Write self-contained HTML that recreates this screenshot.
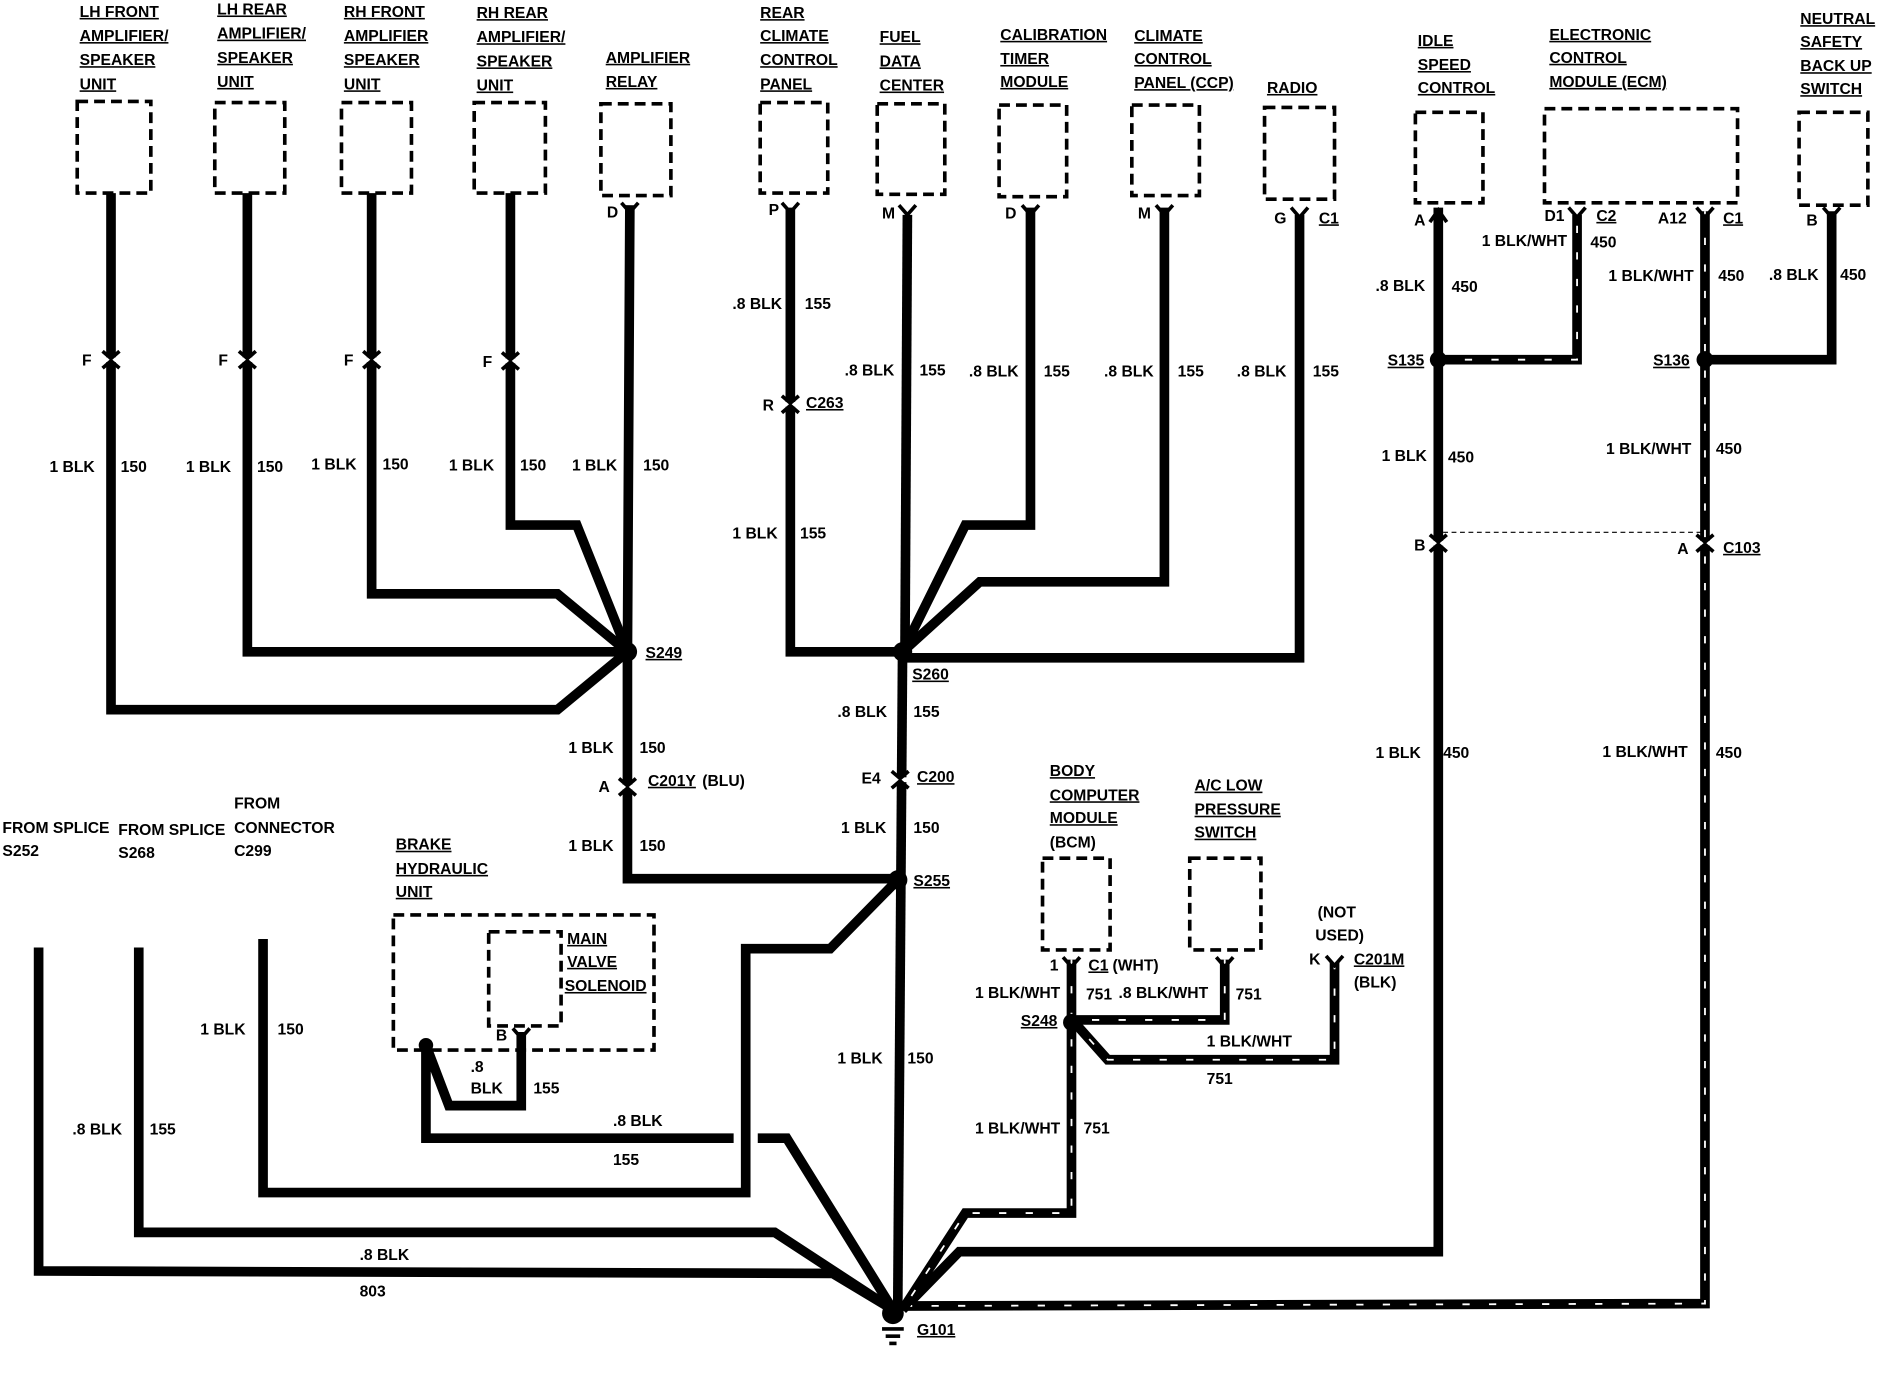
<!DOCTYPE html>
<html><head><meta charset="utf-8"><style>
html,body{margin:0;padding:0;background:#fff;}
svg{display:block;}
text{font-family:"Liberation Sans",sans-serif;font-weight:bold;font-size:13px;fill:#000;}
.u{text-decoration:underline;}
.w{fill:none;stroke:#000;stroke-width:8;stroke-linejoin:miter;}
.s{fill:none;stroke:#fff;stroke-width:1.5;stroke-dasharray:6 16;}
.b{fill:none;stroke:#000;stroke-width:3;stroke-dasharray:9 5;}
.c{fill:none;stroke:#000;stroke-width:3;}
</style></head><body>
<svg width="1892" height="1376" viewBox="0 0 1568 1140" preserveAspectRatio="none" xmlns="http://www.w3.org/2000/svg">
<!-- boxes -->
<rect class="b" x="64" y="84" width="61" height="76"/>
<rect class="b" x="178" y="85" width="58" height="75"/>
<rect class="b" x="283" y="85" width="58" height="75"/>
<rect class="b" x="393" y="85" width="59" height="75"/>
<rect class="b" x="498" y="86" width="58" height="76"/>
<rect class="b" x="630" y="85" width="56" height="75"/>
<rect class="b" x="727" y="86" width="56" height="75"/>
<rect class="b" x="828" y="87" width="56" height="76"/>
<rect class="b" x="938" y="87" width="56" height="75"/>
<rect class="b" x="1048" y="89" width="58" height="76"/>
<rect class="b" x="1173" y="93" width="56" height="75"/>
<rect class="b" x="1280" y="90" width="160" height="78"/>
<rect class="b" x="1491" y="93" width="57" height="77"/>
<rect class="b" x="864" y="711" width="56" height="76"/>
<rect class="b" x="986" y="711" width="59" height="76"/>
<rect class="b" x="326" y="758" width="216" height="112"/>
<rect class="b" x="405" y="772" width="60" height="78"/>

<!-- left group wires -->
<polyline class="w" points="92,160 92,588 462,588 520,540"/>
<polyline class="w" points="205,160 205,540 520,540"/>
<polyline class="w" points="308,160 308,492 462,492 520,540"/>
<polyline class="w" points="423,160 423,435 478,435 520,540"/>
<polyline class="w" points="522,170 520,540 520,728 744,728"/>
<!-- middle group -->
<polyline class="w" points="655,172 655,540 748,540"/>
<polyline class="w" points="752,178 750,540"/>
<polyline class="w" points="854,172 854,435 800,435 748,540"/>
<polyline class="w" points="965,172 965,482 812,482 748,540"/>
<polyline class="w" points="1077,178 1077,545 748,545"/>
<polyline class="w" points="748,540 744,1085"/>
<!-- from S255 to C299 -->
<polyline class="w" points="744,729 688,786 618,786 618,988 218,988 218,778"/>
<!-- brake -->
<polyline class="w" points="432,855 432,916 372,916 353,866 353,943 608,943"/>
<polyline class="w" points="628,943 652,943 740,1085"/>
<!-- left long wires -->
<polyline class="w" points="32,785 32,1053 690,1055 740,1085"/>
<polyline class="w" points="115,785 115,1021 642,1021 740,1085"/>
<!-- right side -->
<polyline class="w" points="1192,172 1192,1037 795,1037 748,1085"/>
<polyline class="w" points="1413,175 1413,1080 748,1082"/>
<polyline class="s" points="1413,175 1413,1080 748,1082"/>
<polyline class="w" points="1192,298 1307,298 1307,178"/>
<polyline class="s" points="1192,298 1307,298 1307,178"/>
<polyline class="w" points="1413,298 1518,298 1518,175"/>
<line x1="1196" y1="441" x2="1410" y2="441" stroke="#000" stroke-width="1" stroke-dasharray="4 3"/>
<!-- BCM area -->
<polyline class="w" points="888,795 888,1005 800,1005 748,1085"/>
<polyline class="s" points="888,795 888,1005 800,1005 748,1085"/>
<polyline class="w" points="1015,795 1015,845 892,845"/>
<polyline class="s" points="1015,795 1015,845 892,845"/>
<polyline class="w" points="1106,797 1106,878 918,878 893,850"/>
<polyline class="s" points="1106,797 1106,878 918,878 893,850"/>

<!-- splice dots -->
<g fill="#000">
<circle cx="520" cy="540" r="8"/><circle cx="748" cy="540" r="8"/>
<circle cx="744" cy="729" r="8"/><circle cx="1192" cy="298" r="7"/>
<circle cx="1413" cy="298" r="7"/><circle cx="888" cy="847" r="7"/>
<circle cx="353" cy="866" r="6"/><circle cx="740" cy="1088" r="9"/>
</g>
<g stroke="#000" stroke-width="3"><line x1="731" y1="1101" x2="749" y2="1101"/><line x1="734" y1="1107" x2="746" y2="1107"/><line x1="737" y1="1113" x2="743" y2="1113"/></g>

<!-- inline connectors -->
<g>
<rect x="80" y="296" width="24" height="4" fill="#fff"/><path class="c" d="M85 291 L92 297 L99 291 M85 305 L92 299 L99 305"/>
<rect x="193" y="296" width="24" height="4" fill="#fff"/><path class="c" d="M198 291 L205 297 L212 291 M198 305 L205 299 L212 305"/>
<rect x="296" y="296" width="24" height="4" fill="#fff"/><path class="c" d="M301 291 L308 297 L315 291 M301 305 L308 299 L315 305"/>
<rect x="411" y="297" width="24" height="4" fill="#fff"/><path class="c" d="M416 292 L423 298 L430 292 M416 306 L423 300 L430 306"/>
<rect x="643" y="333" width="24" height="4" fill="#fff"/><path class="c" d="M648 328 L655 334 L662 328 M648 342 L655 336 L662 342"/>
<rect x="508" y="650" width="24" height="4" fill="#fff"/><path class="c" d="M513 645 L520 651 L527 645 M513 659 L520 653 L527 659"/>
<rect x="734" y="644" width="24" height="4" fill="#fff"/><path class="c" d="M739 639 L746 645 L753 639 M739 653 L746 647 L753 653"/>
<rect x="1180" y="448" width="24" height="4" fill="#fff"/><path class="c" d="M1185 443 L1192 449 L1199 443 M1185 457 L1192 451 L1199 457"/>
<rect x="1401" y="448" width="24" height="4" fill="#fff"/><path class="c" d="M1406 443 L1413 449 L1420 443 M1406 457 L1413 451 L1420 457"/>
<!-- header connectors -->
<path class="c" d="M515 168 L522 176 L529 168"/><path class="c" d="M648 168 L655 176 L662 168"/>
<path class="c" d="M745 170 L752 178 L759 170"/><path class="c" d="M847 170 L854 178 L861 170"/>
<path class="c" d="M958 170 L965 178 L972 170"/><path class="c" d="M1070 172 L1077 180 L1084 172"/>
<path class="c" d="M1185 184 L1192 174 L1199 184"/><path class="c" d="M1300 172 L1307 180 L1314 172"/>
<path class="c" d="M1406 172 L1413 180 L1420 172"/><path class="c" d="M1511 172 L1518 180 L1525 172"/>
<path class="c" d="M881 793 L888 801 L895 793"/><path class="c" d="M1008 793 L1015 801 L1022 793"/>
<path class="c" d="M1099 792 L1106 800 L1113 792"/><path class="c" d="M425 852 L432 860 L439 852"/>
</g>

<!-- labels -->
<text x="66" y="14" class="u">LH FRONT</text><text x="66" y="34" class="u">AMPLIFIER/</text><text x="66" y="54" class="u">SPEAKER</text><text x="66" y="74" class="u">UNIT</text>
<text x="180" y="12" class="u">LH REAR</text><text x="180" y="32" class="u">AMPLIFIER/</text><text x="180" y="52" class="u">SPEAKER</text><text x="180" y="72" class="u">UNIT</text>
<text x="285" y="14" class="u">RH FRONT</text><text x="285" y="34" class="u">AMPLIFIER</text><text x="285" y="54" class="u">SPEAKER</text><text x="285" y="74" class="u">UNIT</text>
<text x="395" y="15" class="u">RH REAR</text><text x="395" y="35" class="u">AMPLIFIER/</text><text x="395" y="55" class="u">SPEAKER</text><text x="395" y="75" class="u">UNIT</text>
<text x="502" y="52" class="u">AMPLIFIER</text><text x="502" y="72" class="u">RELAY</text>
<text x="630" y="15" class="u">REAR</text><text x="630" y="34" class="u">CLIMATE</text><text x="630" y="54" class="u">CONTROL</text><text x="630" y="74" class="u">PANEL</text>
<text x="729" y="35" class="u">FUEL</text><text x="729" y="55" class="u">DATA</text><text x="729" y="75" class="u">CENTER</text>
<text x="829" y="33" class="u">CALIBRATION</text><text x="829" y="53" class="u">TIMER</text><text x="829" y="72" class="u">MODULE</text>
<text x="940" y="34" class="u">CLIMATE</text><text x="940" y="53" class="u">CONTROL</text><text x="940" y="73" class="u">PANEL (CCP)</text>
<text x="1050" y="77" class="u">RADIO</text>
<text x="1175" y="38" class="u">IDLE</text><text x="1175" y="58" class="u">SPEED</text><text x="1175" y="77" class="u">CONTROL</text>
<text x="1284" y="33" class="u">ELECTRONIC</text><text x="1284" y="52" class="u">CONTROL</text><text x="1284" y="72" class="u">MODULE (ECM)</text>
<text x="1492" y="20" class="u">NEUTRAL</text><text x="1492" y="39" class="u">SAFETY</text><text x="1492" y="59" class="u">BACK UP</text><text x="1492" y="78" class="u">SWITCH</text>

<text x="503" y="180">D</text><text x="637" y="178">P</text><text x="731" y="181">M</text><text x="833" y="181">D</text><text x="943" y="181">M</text>
<text x="1056" y="185">G</text><text x="1093" y="185" class="u">C1</text>
<text x="1172" y="187">A</text><text x="1280" y="183">D1</text><text x="1323" y="183" class="u">C2</text>
<text x="1374" y="185">A12</text><text x="1428" y="185" class="u">C1</text><text x="1497" y="187">B</text>
<text x="68" y="303">F</text><text x="181" y="303">F</text><text x="285" y="303">F</text><text x="400" y="304">F</text>
<text x="632" y="340">R</text><text x="668" y="338" class="u">C263</text>

<text x="41" y="391">1 BLK</text><text x="100" y="391">150</text>
<text x="154" y="391">1 BLK</text><text x="213" y="391">150</text>
<text x="258" y="389">1 BLK</text><text x="317" y="389">150</text>
<text x="372" y="390">1 BLK</text><text x="431" y="390">150</text>
<text x="474" y="390">1 BLK</text><text x="533" y="390">150</text>
<text x="607" y="256">.8 BLK</text><text x="667" y="256">155</text>
<text x="607" y="446">1 BLK</text><text x="663" y="446">155</text>
<text x="700" y="311">.8 BLK</text><text x="762" y="311">155</text>
<text x="803" y="312">.8 BLK</text><text x="865" y="312">155</text>
<text x="915" y="312">.8 BLK</text><text x="976" y="312">155</text>
<text x="1025" y="312">.8 BLK</text><text x="1088" y="312">155</text>
<text x="1140" y="241">.8 BLK</text><text x="1203" y="242">450</text>
<text x="1228" y="204">1 BLK/WHT</text><text x="1318" y="205">450</text>
<text x="1333" y="233">1 BLK/WHT</text><text x="1424" y="233">450</text>
<text x="1466" y="232">.8 BLK</text><text x="1525" y="232">450</text>
<text x="1150" y="303" class="u">S135</text><text x="1370" y="303" class="u">S136</text>
<text x="1145" y="382">1 BLK</text><text x="1200" y="383">450</text>
<text x="1331" y="376">1 BLK/WHT</text><text x="1422" y="376">450</text>
<text x="1172" y="456">B</text><text x="1390" y="459">A</text><text x="1428" y="458" class="u">C103</text>
<text x="1140" y="628">1 BLK</text><text x="1196" y="628">450</text>
<text x="1328" y="627">1 BLK/WHT</text><text x="1422" y="628">450</text>

<text x="535" y="545" class="u">S249</text><text x="756" y="563" class="u">S260</text>
<text x="694" y="594">.8 BLK</text><text x="757" y="594">155</text>
<text x="714" y="649">E4</text><text x="760" y="648" class="u">C200</text>
<text x="697" y="690">1 BLK</text><text x="757" y="690">150</text>
<text x="757" y="734" class="u">S255</text>
<text x="471" y="624">1 BLK</text><text x="530" y="624">150</text>
<text x="496" y="656">A</text><text x="537" y="651" class="u">C201Y</text><text x="582" y="651">(BLU)</text>
<text x="471" y="705">1 BLK</text><text x="530" y="705">150</text>
<text x="694" y="881">1 BLK</text><text x="752" y="881">150</text>

<text x="2" y="690">FROM SPLICE</text><text x="2" y="709">S252</text>
<text x="98" y="692">FROM SPLICE</text><text x="98" y="711">S268</text>
<text x="194" y="670">FROM</text><text x="194" y="690">CONNECTOR</text><text x="194" y="709">C299</text>
<text x="328" y="704" class="u">BRAKE</text><text x="328" y="724" class="u">HYDRAULIC</text><text x="328" y="743" class="u">UNIT</text>
<text x="470" y="782" class="u">MAIN</text><text x="470" y="801" class="u">VALVE</text><text x="468" y="821" class="u">SOLENOID</text>
<text x="411" y="862">B</text>
<text x="390" y="888">.8</text><text x="390" y="906">BLK</text><text x="442" y="906">155</text>
<text x="508" y="933">.8 BLK</text><text x="508" y="965">155</text>
<text x="166" y="857">1 BLK</text><text x="230" y="857">150</text>
<text x="60" y="940">.8 BLK</text><text x="124" y="940">155</text>
<text x="298" y="1044">.8 BLK</text><text x="298" y="1074">803</text>
<text x="760" y="1106" class="u">G101</text>

<text x="870" y="643" class="u">BODY</text><text x="870" y="663" class="u">COMPUTER</text><text x="870" y="682" class="u">MODULE</text><text x="870" y="702">(BCM)</text>
<text x="990" y="655" class="u">A/C LOW</text><text x="990" y="675" class="u">PRESSURE</text><text x="990" y="694" class="u">SWITCH</text>
<text x="870" y="804">1</text><text x="902" y="804" class="u">C1</text><text x="922" y="804">(WHT)</text>
<text x="1092" y="760">(NOT</text><text x="1090" y="779">USED)</text>
<text x="1085" y="799">K</text><text x="1122" y="799" class="u">C201M</text><text x="1122" y="818">(BLK)</text>
<text x="808" y="827">1 BLK/WHT</text><text x="900" y="828">751</text><text x="927" y="827">.8 BLK/WHT</text><text x="1024" y="828">751</text>
<text x="846" y="850" class="u">S248</text>
<text x="1000" y="867">1 BLK/WHT</text><text x="1000" y="898">751</text>
<text x="808" y="939">1 BLK/WHT</text><text x="898" y="939">751</text>
</svg>
</body></html>
